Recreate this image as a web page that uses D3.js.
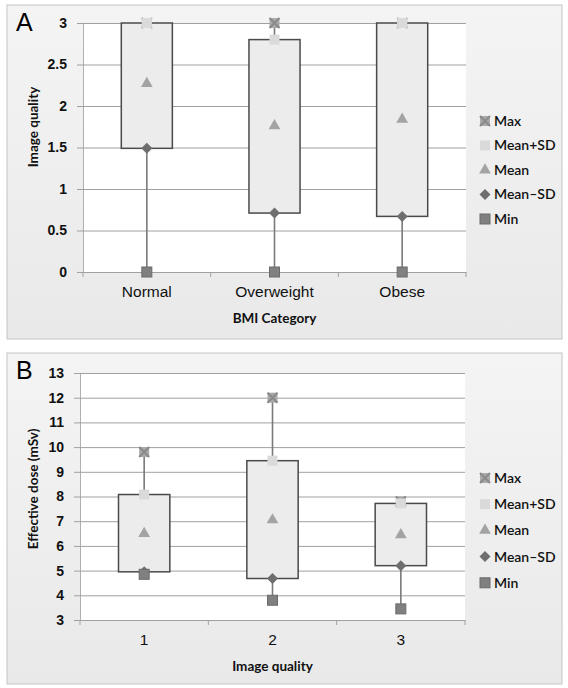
<!DOCTYPE html>
<html>
<head>
<meta charset="utf-8">
<script src="https://cdn.jsdelivr.net/npm/d3@7"></script>
<style>
  body { margin: 0; background: #fff; }
  svg { font-family: Lato, "Open Sans", sans-serif; }
</style>
</head>
<body>
<svg id="chart" width="568" height="688"></svg>
<script>
// Panel A : image quality by BMI category
var bmiCats = ["Normal", "Overweight", "Obese"];
var bmiMax = [3, 3, 3];
var bmiMeanPlus = [3, 2.8, 3];
var bmiMean = [2.27, 1.76, 1.84];
var bmiMeanMinus = [1.49, 0.71, 0.67];
var bmiMin = [0, 0, 0];
var bmiTicks = [0, 0.5, 1, 1.5, 2, 2.5, 3];

// Panel B : effective dose by image quality
var iqCats = ["1", "2", "3"];
var iqMax = [9.8, 12.0, 7.8];
var iqMeanPlus = [8.08, 9.45, 7.72];
var iqMean = [6.5, 7.05, 6.45];
var iqMeanMinus = [4.95, 4.68, 5.2];
var iqMin = [4.85, 3.8, 3.45];
var iqTicks = [3, 4, 5, 6, 7, 8, 9, 10, 11, 12, 13];

var legendNames = ["Max", "Mean+SD", "Mean", "Mean\u2013SD", "Min"];

var svg = d3.select("#chart");

var defs = svg.append("defs");
var grad = defs.append("linearGradient")
  .attr("id", "panelBg")
  .attr("x1", 0).attr("y1", 0).attr("x2", 0).attr("y2", 1);
grad.append("stop").attr("offset", "0%").attr("stop-color", "#f4f4f4");
grad.append("stop").attr("offset", "100%").attr("stop-color", "#e9e9e9");

// draw one marker of a given kind at (0,0) inside g
function drawMarker(g, kind) {
  if (kind == "Max") {
    g.append("rect").attr("x", -5).attr("y", -5).attr("width", 10).attr("height", 10)
      .attr("fill", "#a9a9a9");
    g.append("path").attr("d", "M-5,-5L5,5M5,-5L-5,5")
      .attr("stroke", "#8a8a8a").attr("stroke-width", 2);
  } else if (kind == "Mean+SD") {
    g.append("rect").attr("x", -5).attr("y", -5).attr("width", 10).attr("height", 10)
      .attr("fill", "#dadada");
  } else if (kind == "Mean") {
    g.append("path").attr("d", d3.symbol(d3.symbolTriangle, 60))
      .attr("fill", "#a3a3a3");
  } else if (kind == "Mean\u2013SD") {
    g.append("path").attr("d", "M0,-5.5L5.5,0L0,5.5L-5.5,0Z")
      .attr("fill", "#6e6e6e");
  } else {
    g.append("rect").attr("x", -5).attr("y", -5).attr("width", 10).attr("height", 10)
      .attr("fill", "#808080").attr("stroke", "#6a6a6a").attr("stroke-width", 1);
  }
}

function drawPanel(cfg) {
  var p = svg.append("g");

  // panel frame
  p.append("rect")
    .attr("x", cfg.frame[0]).attr("y", cfg.frame[1])
    .attr("width", cfg.frame[2]).attr("height", cfg.frame[3])
    .attr("fill", "url(#panelBg)")
    .attr("stroke", "#c4c4c4");

  var x = d3.scaleBand()
    .domain(cfg.cats)
    .range([cfg.left, cfg.right]);

  var y = d3.scaleLinear()
    .domain(cfg.domain)
    .range([cfg.bottom, cfg.top]);

  // plot area
  p.append("rect")
    .attr("x", cfg.left).attr("y", cfg.top)
    .attr("width", cfg.right - cfg.left).attr("height", cfg.bottom - cfg.top)
    .attr("fill", "#fff");

  // gridlines + y axis
  var yAxis = p.append("g")
    .attr("transform", "translate(" + cfg.left + ",0)")
    .call(d3.axisLeft(y).tickValues(cfg.ticks).tickSize(6).tickPadding(10)
      .tickFormat(function(d) { return d; }));
  yAxis.select(".domain").attr("stroke", "#b0b0b0");
  yAxis.selectAll(".tick line")
    .attr("x2", cfg.right - cfg.left)
    .attr("x1", -6)
    .attr("stroke", "#a0a0a0");
  yAxis.selectAll(".tick text")
    .attr("font-size", 14)
    .attr("font-weight", "bold")
    .attr("fill", "#111");

  // x axis
  var xAxis = p.append("g")
    .attr("transform", "translate(0," + cfg.bottom + ")")
    .call(d3.axisBottom(x).tickSize(0).tickPadding(14));
  xAxis.select(".domain").attr("stroke", "#a0a0a0");
  xAxis.selectAll(".tick text")
    .attr("font-size", 15.5)
    .attr("fill", "#111");
  var edges = cfg.cats.map(function(c) { return x(c); }).concat([cfg.right]);
  xAxis.selectAll(".edge")
    .data(edges)
    .enter().append("line")
    .attr("x1", function(d) { return d; })
    .attr("x2", function(d) { return d; })
    .attr("y1", 0).attr("y2", 5)
    .attr("stroke", "#a0a0a0");

  // rows of data
  var rows = cfg.cats.map(function(c, i) {
    return { cat: c, max: cfg.max[i], hi: cfg.hi[i], mean: cfg.mean[i], lo: cfg.lo[i], min: cfg.min[i] };
  });
  var bw = x.bandwidth() * 0.4;

  var plot = p.append("g");

  // high-low lines
  plot.selectAll(".hl")
    .data(rows)
    .enter().append("line")
    .attr("x1", function(d) { return x(d.cat) + x.bandwidth() / 2; })
    .attr("x2", function(d) { return x(d.cat) + x.bandwidth() / 2; })
    .attr("y1", function(d) { return y(d.max); })
    .attr("y2", function(d) { return y(d.min); })
    .attr("stroke", "#7a7a7a")
    .attr("stroke-width", 1.6);

  // up-down boxes
  plot.selectAll(".box")
    .data(rows)
    .enter().append("rect")
    .attr("x", function(d) { return x(d.cat) + (x.bandwidth() - bw) / 2; })
    .attr("y", function(d) { return y(d.hi); })
    .attr("width", bw)
    .attr("height", function(d) { return y(d.lo) - y(d.hi); })
    .attr("fill", "#ececec")
    .attr("stroke", "#4a4a4a")
    .attr("stroke-width", 1.5);

  // markers, drawn in legend order
  var keys = ["max", "hi", "mean", "lo", "min"];
  keys.forEach(function(k, j) {
    rows.forEach(function(d) {
      var g = plot.append("g")
        .attr("transform", "translate(" + (x(d.cat) + x.bandwidth() / 2) + "," + y(d[k]) + ")");
      drawMarker(g, legendNames[j]);
    });
  });

  // panel letter
  p.append("text")
    .attr("x", cfg.frame[0] + 9).attr("y", cfg.frame[1] + 26)
    .attr("font-size", 25)
    .attr("font-family", "'Liberation Sans', Arial, sans-serif")
    .attr("fill", "#000")
    .text(cfg.letter);

  // axis titles
  p.append("text")
    .attr("transform", "translate(" + cfg.yTitleX + "," + cfg.yTitleY + ") rotate(-90)")
    .attr("text-anchor", "middle")
    .attr("font-size", 13.5)
    .attr("font-weight", "bold")
    .attr("fill", "#111")
    .text(cfg.yTitle);

  p.append("text")
    .attr("x", (cfg.left + cfg.right) / 2)
    .attr("y", cfg.bottom + 51)
    .attr("text-anchor", "middle")
    .attr("font-size", 13.5)
    .attr("font-weight", "bold")
    .attr("fill", "#111")
    .text(cfg.xTitle);

  // legend
  var leg = p.selectAll(".legend")
    .data(legendNames)
    .enter().append("g")
    .attr("transform", function(d, i) {
      return "translate(" + cfg.legX + "," + (cfg.legY + i * cfg.legStep) + ")";
    });
  leg.each(function(d) { drawMarker(d3.select(this), d); });
  leg.append("text")
    .attr("x", 9)
    .attr("dy", "0.35em")
    .attr("font-size", 14)
    .attr("font-weight", 600)
    .attr("fill", "#111")
    .text(function(d) { return d; });
}

drawPanel({
  letter: "A",
  frame: [7, 5, 555, 334],
  cats: bmiCats, max: bmiMax, hi: bmiMeanPlus, mean: bmiMean, lo: bmiMeanMinus, min: bmiMin,
  ticks: bmiTicks, domain: [0, 3],
  left: 83, right: 466, top: 23, bottom: 272,
  yTitle: "Image quality", yTitleX: 38, yTitleY: 127,
  xTitle: "BMI Category",
  legX: 485, legY: 121, legStep: 24.5
});

drawPanel({
  letter: "B",
  frame: [7, 353, 555, 331],
  cats: iqCats, max: iqMax, hi: iqMeanPlus, mean: iqMean, lo: iqMeanMinus, min: iqMin,
  ticks: iqTicks, domain: [3, 13],
  left: 80, right: 465, top: 373, bottom: 620,
  yTitle: "Effective dose (mSv)", yTitleX: 38, yTitleY: 489,
  xTitle: "Image quality",
  legX: 485, legY: 478, legStep: 26.2
});
</script>
</body>
</html>
